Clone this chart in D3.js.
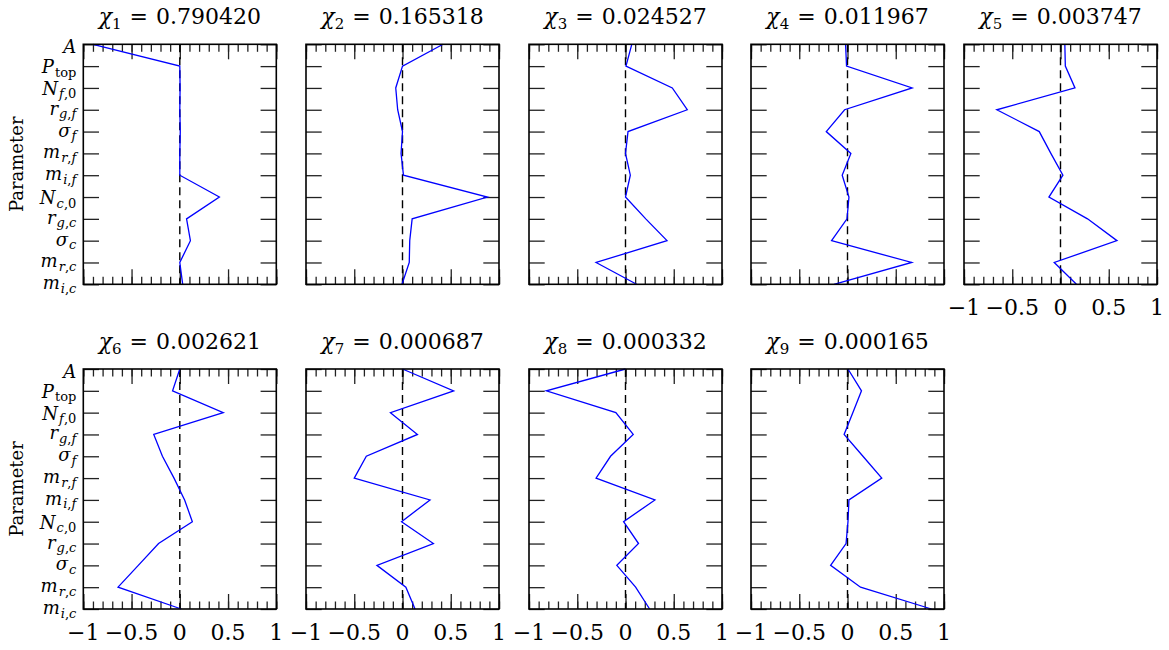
<!DOCTYPE html>
<html>
<head>
<meta charset="utf-8">
<script src="https://cdn.jsdelivr.net/npm/d3@7"></script>
<style>
  body { margin: 0; background: #fff; }
</style>
</head>
<body>
<div id="chart"></div>
<script>
// parameter names, split into main symbol and subscript
var paramMain = ["A", "P", "N", "r", "σ", "m", "m", "N", "r", "σ", "m", "m"];
var paramSub = ["", "top", "f,0", "g,f", "f", "r,f", "i,f", "c,0", "g,c", "c", "r,c", "i,c"];
var params = paramMain.map(function(d, i){ return d + "_" + paramSub[i]; });

var chiValues = ["0.790420", "0.165318", "0.024527", "0.011967", "0.003747",
                 "0.002621", "0.000687", "0.000332", "0.000165"];

var xTicks = [-1, -0.5, 0, 0.5, 1];

// component loadings, one value per parameter (A ... m_i,c)
var comp1 = [-0.90, 0.00, 0.003, 0.00, 0.005, 0.00, 0.00, 0.41, 0.07, 0.11, 0.00, 0.03];
var comp2 = [0.42, 0.00, -0.07, -0.05, 0.00, -0.015, 0.01, 0.88, 0.10, 0.075, 0.07, -0.005];
var comp3 = [0.065, 0.005, 0.485, 0.64, 0.026, 0.00, 0.05, 0.00, 0.21, 0.43, -0.305, 0.115];
var comp4 = [-0.02, -0.01, 0.67, -0.03, -0.22, 0.035, -0.055, 0.015, -0.005, -0.165, 0.665, -0.14];
var comp5 = [0.045, 0.05, 0.15, -0.66, -0.22, -0.10, 0.025, -0.12, 0.28, 0.585, -0.065, 0.165];
var comp6 = [0.00, -0.075, 0.45, -0.27, -0.18, -0.06, 0.05, 0.13, -0.22, -0.43, -0.64, 0.015];
var comp7 = [0.00, 0.53, -0.125, 0.155, -0.375, -0.50, 0.285, -0.01, 0.32, -0.265, 0.035, 0.13];
var comp8 = [0.00, -0.82, -0.10, 0.08, -0.155, -0.305, 0.305, -0.02, 0.135, -0.09, 0.105, 0.25];
var comp9 = [0.005, 0.145, 0.055, -0.035, 0.16, 0.355, 0.015, 0.005, -0.015, -0.175, 0.135, 0.87];
var components = [comp1, comp2, comp3, comp4, comp5, comp6, comp7, comp8, comp9];

var W = 1169, H = 650;
var colLeft = [83.3, 306, 529, 751, 964];
var rowTop = [44.3, 369];
var pw = 193, ph = 240;
var FONT = "'DejaVu Serif', serif";

var svg = d3.select("#chart").append("svg")
    .attr("width", W)
    .attr("height", H)
    .attr("font-family", FONT);

var x = d3.scaleLinear().domain([-1, 1]).range([0, pw]);
var y = d3.scalePoint().domain(params).range([0, ph]);
var minorTicks = d3.range(-10, 11).map(function(d){ return d / 10; });

function noDomain(g){ g.select(".domain").remove(); }

function subscript(sel, sub, size, dy){
    if (sub === "top"){
        sel.append("tspan").attr("font-size", size).attr("dy", dy).attr("dx", 1).text(sub);
        return;
    }
    sub.split("").forEach(function(ch, k){
        var t = sel.append("tspan").attr("font-size", size).text(ch);
        if (k === 0) t.attr("dy", dy).attr("dx", 1);
        if (/[a-z]/.test(ch)) t.attr("font-style", "italic");
    });
}

function drawPanel(idx){
    var row = idx < 5 ? 0 : 1;
    var col = idx < 5 ? idx : idx - 5;
    var g = svg.append("g")
        .attr("transform", "translate(" + colLeft[col] + "," + rowTop[row] + ")");

    // title
    var title = g.append("text")
        .attr("x", pw / 2)
        .attr("y", -20)
        .attr("text-anchor", "middle")
        .attr("font-family", FONT)
        .attr("font-size", 22);
    title.append("tspan").attr("font-style", "italic").text("χ");
    title.append("tspan").attr("font-size", 15).attr("dy", 5).text(idx + 1);
    title.append("tspan").attr("dy", -5).attr("dx", 8).text("=");
    title.append("tspan").attr("dx", 8).text(chiValues[idx]);

    // ticks, inward on all sides
    g.append("g").attr("transform", "translate(0," + ph + ")")
        .call(d3.axisBottom(x).tickValues(minorTicks).tickSize(-7.5).tickFormat(""))
        .call(noDomain);
    g.append("g").attr("transform", "translate(0," + ph + ")")
        .call(d3.axisBottom(x).tickValues(xTicks).tickSize(-15).tickFormat(""))
        .call(noDomain);
    g.append("g")
        .call(d3.axisTop(x).tickValues(minorTicks).tickSize(-7.5).tickFormat(""))
        .call(noDomain);
    g.append("g")
        .call(d3.axisTop(x).tickValues(xTicks).tickSize(-15).tickFormat(""))
        .call(noDomain);
    g.append("g")
        .call(d3.axisLeft(y).tickSize(-15.7).tickFormat(""))
        .call(noDomain);
    g.append("g").attr("transform", "translate(" + pw + ",0)")
        .call(d3.axisRight(y).tickSize(-15.7).tickFormat(""))
        .call(noDomain);
    g.selectAll(".tick line").attr("stroke", "#222").attr("stroke-width", 1.3);

    // zero line
    g.append("line")
        .attr("x1", x(0)).attr("x2", x(0))
        .attr("y1", 0).attr("y2", ph)
        .attr("stroke", "#000")
        .attr("stroke-width", 1.4)
        .attr("stroke-dasharray", "8,5");

    // loadings
    var pts = components[idx].map(function(v, i){ return {p: params[i], v: v}; });
    var line = d3.line()
        .x(function(d){ return x(d.v); })
        .y(function(d){ return y(d.p); });
    g.append("path")
        .datum(pts)
        .attr("d", line)
        .attr("fill", "none")
        .attr("stroke", "#0000ff")
        .attr("stroke-width", 1.3);

    g.append("rect")
        .attr("width", pw).attr("height", ph)
        .attr("fill", "none")
        .attr("stroke", "#000")
        .attr("stroke-width", 1.6);

    // x tick labels
    if (idx >= 4){
        g.selectAll(".xlab").data(xTicks).enter().append("text")
            .attr("x", function(d){ return x(d); })
            .attr("y", ph + 30.5)
            .attr("text-anchor", "middle")
            .attr("font-family", FONT)
            .attr("font-size", 22)
            .text(function(d){ return String(d).replace("-", "−"); });
    }

    // y labels
    if (col === 0){
        params.forEach(function(p, i){
            var cap = /[A-Z]/.test(paramMain[i]);
            var t = g.append("text")
                .attr("x", -7)
                .attr("y", y(p) + (i === 0 ? 8.5 : (cap ? 7 : 5)))
                .attr("text-anchor", "end")
                .attr("font-family", FONT)
                .attr("font-size", 18);
            t.append("tspan").attr("font-style", "italic").text(paramMain[i]);
            if (paramSub[i]) subscript(t, paramSub[i], 13, 3.5);
        });
        g.append("text")
            .attr("transform", "translate(-60," + (ph / 2) + ") rotate(-90)")
            .attr("text-anchor", "middle")
            .attr("font-family", FONT)
            .attr("font-size", 18)
            .text("Parameter");
    }
}

for (var i = 0; i < components.length; i++){
    drawPanel(i);
}
</script>
</body>
</html>
